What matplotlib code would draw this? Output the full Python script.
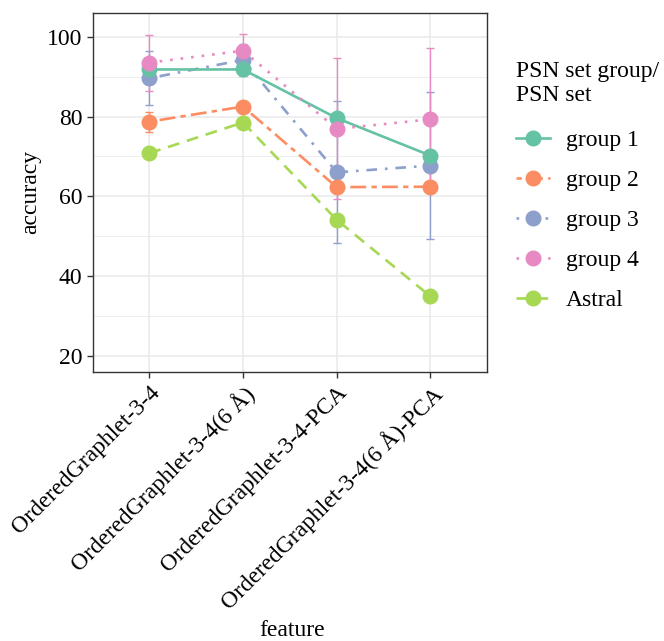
import numpy as np
import matplotlib
matplotlib.use('Agg')
import matplotlib.pyplot as plt

plt.rcParams['font.family'] = ['Liberation Serif', 'DejaVu Serif']

# Daten
features = ['OrderedGraphlet-3-4', 'OrderedGraphlet-3-4(6 Å)',
            'OrderedGraphlet-3-4-PCA', 'OrderedGraphlet-3-4(6 Å)-PCA']
groups = ['group 1', 'group 2', 'group 3', 'group 4', 'Astral']

acc_g1 = [91.8, 91.8, 79.6, 70.2]
acc_g2 = [78.7, 82.5, 62.3, 62.4]
acc_g3 = [89.6, 94.2, 66.0, 67.7]
acc_g4 = [93.5, 96.5, 76.9, 79.3]
acc_astral = [70.8, 78.5, 54.1, 34.9]

err_g1 = [0.3, 0.3, 0.3, 0.3]
err_g2 = [2.5, 0.5, 0.5, 0.5]
err_g3 = [6.8, 4.0, 17.8, 18.5]
err_g4 = [7.0, 4.2, 17.7, 17.8]
err_astral = [0.0, 0.0, 0.0, 0.0]

colors = ['#66C2A5', '#FC8D62', '#8DA0CB', '#E78AC3', '#A6D854']
dashes = [None, (2, 2, 6, 2), (1, 3, 4, 3), (1, 3), (4.5, 3)]

fig = plt.figure(figsize=(6.64, 6.41), dpi=100)
ax = fig.add_axes([0.140, 0.420, 0.593, 0.560])

x = np.arange(len(features))
series = [(acc_g1, err_g1), (acc_g2, err_g2), (acc_g3, err_g3),
          (acc_g4, err_g4), (acc_astral, err_astral)]
order = [4, 2, 1, 0, 3]
handles = {}
for i in order:
    y, e = series[i]
    ax.errorbar(x, y, yerr=e, fmt='none', ecolor=colors[i], elinewidth=1.0,
                capsize=3, capthick=1.0, zorder=2)
    ln, = ax.plot(x, y, color=colors[i], lw=1.9, marker='o', ms=10.5,
                  zorder=3, label=groups[i])
    if dashes[i] is not None:
        ln.set_dashes(dashes[i])
    handles[i] = ln

ax.set_xlim(-0.6, 3.6)
ax.set_ylim(16, 106)
ax.set_xticks(x)
ax.set_xticklabels(features, rotation=45, ha='right', rotation_mode='anchor',
                   fontsize=17)
ax.set_yticks([20, 40, 60, 80, 100])
ax.set_yticks([30, 50, 70, 90], minor=True)
ax.tick_params(axis='y', which='minor', length=0)
ax.tick_params(axis='both', which='major', labelsize=17, color='#333333',
               length=4, width=1)
ax.grid(True, which='major', color='#EBEBEB', lw=1.2, zorder=0)
ax.grid(True, which='minor', axis='y', color='#EBEBEB', lw=0.6, zorder=0)
ax.set_axisbelow(True)
for s in ax.spines.values():
    s.set_color('#333333')
    s.set_linewidth(1.0)

ax.set_ylabel('accuracy', fontsize=17)
fig.text(0.44, 0.008, 'feature', fontsize=17, ha='center')

leg = fig.legend([handles[i] for i in range(5)], groups,
                 title='PSN set group/\nPSN set', loc='upper left',
                 bbox_to_anchor=(0.777, 0.905), frameon=False, fontsize=17,
                 title_fontsize=17, handlelength=1.45, handletextpad=0.65,
                 labelspacing=0.78, borderpad=0, borderaxespad=0)
leg._legend_box.align = 'left'
leg._legend_box.sep = 17

fig.savefig('out.png', dpi=100)
